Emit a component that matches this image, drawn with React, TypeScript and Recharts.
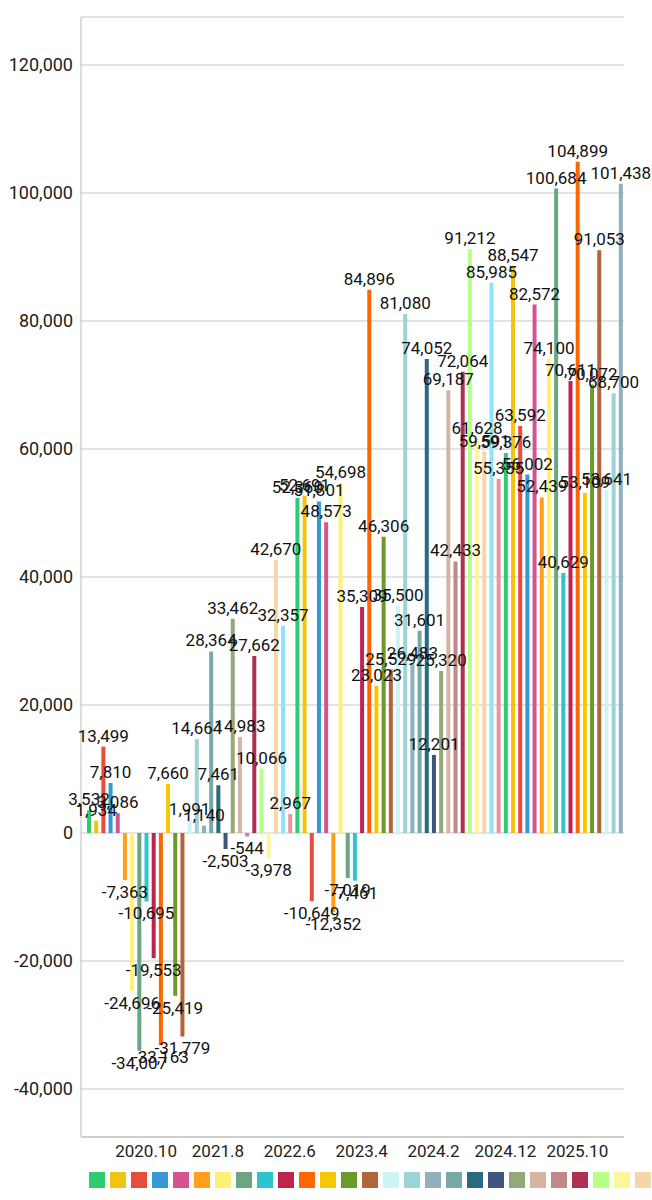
import React from 'react';
import { BarChart, Bar, XAxis, YAxis, CartesianGrid, Cell, LabelList } from 'recharts';

const palette = [
  '#2ecc71', '#f1c40f', '#e74c3c', '#3498db', '#d35490', '#ff9f1a', '#fff176', '#6aa584',
  '#2ec4cf', '#c0234f', '#ff6600', '#f5c800', '#6b9a2a', '#b0663a', '#d0f4f4', '#9ad4d6',
  '#8fb0bc', '#76aaa8', '#2a6a80', '#3f5580', '#95a87a', '#d4b5a5', '#c08888', '#b03050',
  '#b8ff88', '#fff59d', '#f5d6a8', '#8ee3f5', '#e895a0',
];

const values = [
  3532, 1934, 13499, 7810, 3086, -7363, -24696, -34007, -10695, -19553,
  -33163, 7660, -25419, -31779, 1991, 14664, 1140, 28364, 7461, -2503,
  33462, 14983, -544, 27662, 10066, -3978, 42670, 32357, 2967, 52360,
  52691, -10649, 51801, 48573, -12352, 54698, -7019, -7461, 35309, 84896,
  23023, 46306, 25529, 35500, 81080, 26483, 31601, 74052, 12201, 25320,
  69187, 42433, 72064, 91212, 61628, 59591, 85985, 55355, 59376, 88547,
  63592, 56002, 82572, 52439, 74100, 100684, 40629, 70611, 104899, 53109,
  70072, 91053, 53641, 68700, 101438,
];

const months = values.map((_, i) => {
  const m = i + 1; // start 2020.2
  const y = 2020 + Math.floor(m / 12);
  return `${y}.${(m % 12) + 1}`;
});

const yTicks = [-40000, -20000, 0, 20000, 40000, 60000, 80000, 100000, 120000];

const data = months.map((month, i) => ({ month, value: values[i] }));

const fmt = (v: number) => v.toLocaleString('en-US');

const ValueLabel = (props: any) => {
  const { x, y, width, height, value } = props;
  const top = Math.min(y, y + height);
  const bottom = Math.max(y, y + height);
  const cx = x + width / 2;
  return (
    <text
      x={cx}
      y={value >= 0 ? top - 5 : bottom + 18}
      textAnchor="middle"
      fontSize={17}
      fill="#111"
    >
      {fmt(value)}
    </text>
  );
};

export default function App() {
  return (
    <div style={{ position: 'absolute', left: 0, top: 0, width: 652, height: 1200, overflow: 'hidden', fontFamily: 'Roboto', background: '#fff' }}>
      <BarChart
        width={652}
        height={1172}
        data={data}
        margin={{ top: 17, right: 28, bottom: 0, left: 0 }}
        barCategoryGap={1}
      >
        <CartesianGrid vertical={false} stroke="#c8c8c8" />
        <XAxis
          dataKey="month"
          interval={0}
          tickLine={false}
          axisLine={{ stroke: '#bbb' }}
          height={35}
          padding={{ left: 4, right: 0 }}
          tick={{ fontSize: 17, fill: '#222' }}
          tickFormatter={(v: string, i: number) => (i % 10 === 8 ? v : '')}
        />
        <YAxis
          domain={[-47500, 127500]}
          ticks={yTicks}
          width={81}
          tickLine={false}
          axisLine={{ stroke: '#bbb' }}
          tick={{ fontSize: 18, fill: '#222' }}
          tickFormatter={fmt}
        />
        <Bar dataKey="value" barSize={4} isAnimationActive={false}>
          {data.map((_, i) => (
            <Cell key={i} fill={palette[i % palette.length]} />
          ))}
          <LabelList dataKey="value" content={ValueLabel} />
        </Bar>
      </BarChart>
      <div style={{ position: 'absolute', left: 89, top: 1172, display: 'flex', gap: 5, width: 2000 }}>
        {data.map((_, i) => (
          <div key={i} style={{ width: 16, height: 16, background: palette[i % palette.length], flexShrink: 0 }} />
        ))}
      </div>
    </div>
  );
}
